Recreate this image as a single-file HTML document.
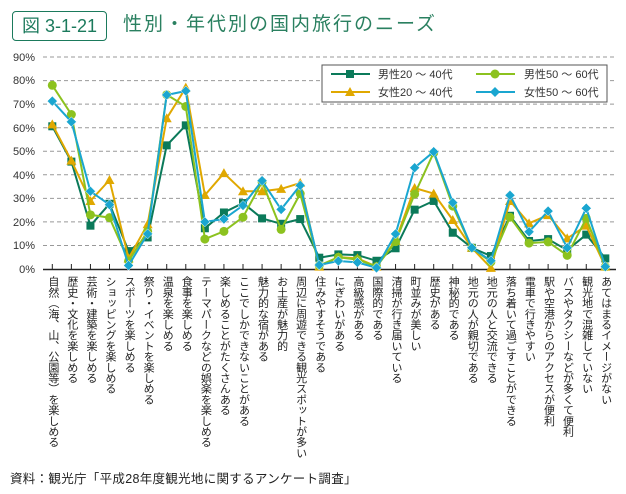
<!DOCTYPE html>
<html><head><meta charset="utf-8"><style>
body{margin:0;width:626px;height:494px;background:#fff;position:relative;overflow:hidden;font-family:"Liberation Sans","Noto Sans CJK JP",sans-serif;}
#hdr{position:absolute;left:12px;top:11px;width:93px;height:28px;border:1.5px solid #1b7a5c;border-radius:4px;color:#1b7a5c;font-size:18px;line-height:28px;text-align:center;}
#ttl{position:absolute;left:123px;top:11px;color:#2a8060;font-size:19px;line-height:28px;letter-spacing:2px;}
#labels{position:absolute;left:42.8px;top:276px;display:flex;}
#labels span{width:19.07px;writing-mode:vertical-rl;font-size:11px;line-height:19.07px;color:#222;letter-spacing:-0.3px;}
#src{position:absolute;left:10px;top:468px;font-size:12.5px;color:#222;letter-spacing:0.3px;}
</style></head><body>
<div id="hdr">図 3-1-21</div>
<div id="ttl">性別・年代別の国内旅行のニーズ</div>
<svg id="chart" width="626" height="494" style="position:absolute;left:0;top:0">
<g font-size="11" fill="#333" text-anchor="end" font-family="Liberation Sans,sans-serif">
<text x="35" y="273">0%</text><text x="35" y="249">10%</text><text x="35" y="226">20%</text><text x="35" y="202">30%</text><text x="35" y="179">40%</text><text x="35" y="155">50%</text><text x="35" y="132">60%</text><text x="35" y="108">70%</text><text x="35" y="84">80%</text><text x="35" y="61">90%</text>
</g>
<g id="grid" stroke="#999" stroke-dasharray="4,3" stroke-width="1"></g>
<line x1="43" y1="269.5" x2="616" y2="269.5" stroke="#222" stroke-width="1.5"/>
<g id="ticks" stroke="#222"></g>
<g id="series"></g>
<rect x="322" y="65" width="285" height="37" fill="#fff" stroke="#555"/>
<g font-size="11" fill="#333">
<line x1="331" y1="74" x2="370" y2="74" stroke="#0b7a5a" stroke-width="2"/><rect x="346" y="70" width="8" height="8" fill="#0b7a5a"/>
<text x="378" y="78">男性20 ～ 40代</text>
<line x1="331" y1="92" x2="370" y2="92" stroke="#e0a800" stroke-width="2"/><polygon points="350,87 355,96 345,96" fill="#e0a800"/>
<text x="378" y="96">女性20 ～ 40代</text>
<line x1="476" y1="74" x2="515" y2="74" stroke="#8cc21f" stroke-width="2"/><circle cx="495" cy="74" r="4.5" fill="#8cc21f"/>
<text x="524" y="78">男性50 ～ 60代</text>
<line x1="476" y1="92" x2="515" y2="92" stroke="#1aa6d0" stroke-width="2"/><polygon points="495,87 500,92 495,97 490,92" fill="#1aa6d0"/>
<text x="524" y="96">女性50 ～ 60代</text>
</g>
</svg>
<div id="labels">
<span>自然（海、山、公園等）を楽しめる</span><span>歴史・文化を楽しめる</span><span>芸術・建築を楽しめる</span><span>ショッピングを楽しめる</span><span>スポーツを楽しめる</span><span>祭り・イベントを楽しめる</span><span>温泉を楽しめる</span><span>食事を楽しめる</span><span>テーマパークなどの娯楽を楽しめる</span><span>楽しめることがたくさんある</span><span>ここでしかできないことがある</span><span>魅力的な宿がある</span><span>お土産が魅力的</span><span>周辺に周遊できる観光スポットが多い</span><span>住みやすそうである</span><span>にぎわいがある</span><span>高級感がある</span><span>国際的である</span><span>清掃が行き届いている</span><span>町並みが美しい</span><span>歴史がある</span><span>神秘的である</span><span>地元の人が親切である</span><span>地元の人と交流できる</span><span>落ち着いて過ごすことができる</span><span>電車で行きやすい</span><span>駅や空港からのアクセスが便利</span><span>バスやタクシーなどが多くて便利</span><span>観光地で混雑していない</span><span>あてはまるイメージがない</span>
</div>
<div id="src">資料：観光庁「平成28年度観光地に関するアンケート調査」</div>
<script>
var X=function(i){return 52.3+19.07*i},Y=function(v){return 269-2.355*v};
var g=document.getElementById('grid'),t=document.getElementById('ticks'),s=document.getElementById('series'),h='';
for(var k=1;k<=9;k++){var y=Y(k*10);h+='<line x1="43" y1="'+y+'" x2="616" y2="'+y+'"/>';}g.innerHTML=h;h='';
for(var i=0;i<30;i++)h+='<line x1="'+X(i)+'" y1="264" x2="'+X(i)+'" y2="270"/>';t.innerHTML=h;
var D=[
['#0b7a5a','sq',[60.6,45.6,18.4,27.7,7.6,13.4,52.5,61,17.3,24,28,21.5,19.2,21.2,4.8,6.2,5.9,3.5,8.8,25.2,28.9,15.4,9,5.5,22.6,11.9,12.7,8,14.6,4.5]],
['#e0a800','tri',[61.4,46,28.9,37.8,4.5,19,64,77,31.4,40.7,33,33,34,36.5,1,5,4.5,1,12,34.4,32,20.8,9,0.5,28.9,19.4,22.9,13,18.4,1]],
['#8cc21f','ci',[78,65.6,23,21.8,3.4,16,74,69,12.7,16,22,37,16.8,32,1.5,5,4,1,11.6,31.8,49.4,26.7,9,3,22,11,11.5,5.8,21.5,1]],
['#1aa6d0','di',[71.3,62.5,33,27.3,1.5,14.9,73.9,75.6,20,21.2,27,37.5,25.3,35.5,1.7,3.4,2.8,0.5,14.9,43,49.8,28.2,9,3.5,31.3,15.8,24.6,9,25.8,1]]];
h='';
D.forEach(function(d){var c=d[0],p=d[2].map(function(v,i){return X(i).toFixed(1)+','+Y(v).toFixed(1)}).join(' ');
h+='<polyline points="'+p+'" fill="none" stroke="'+c+'" stroke-width="2"/>';
d[2].forEach(function(v,i){var x=X(i),y=Y(v);
if(d[1]=='sq')h+='<rect x="'+(x-4)+'" y="'+(y-4)+'" width="8" height="8" fill="'+c+'"/>';
if(d[1]=='tri')h+='<polygon points="'+x+','+(y-5)+' '+(x+5)+','+(y+4)+' '+(x-5)+','+(y+4)+'" fill="'+c+'"/>';
if(d[1]=='ci')h+='<circle cx="'+x+'" cy="'+y+'" r="4.5" fill="'+c+'"/>';
if(d[1]=='di')h+='<polygon points="'+x+','+(y-5)+' '+(x+5)+','+y+' '+x+','+(y+5)+' '+(x-5)+','+y+'" fill="'+c+'" stroke="#fff" stroke-width="0.5"/>';});});
s.innerHTML=h;
</script>
</body></html>
